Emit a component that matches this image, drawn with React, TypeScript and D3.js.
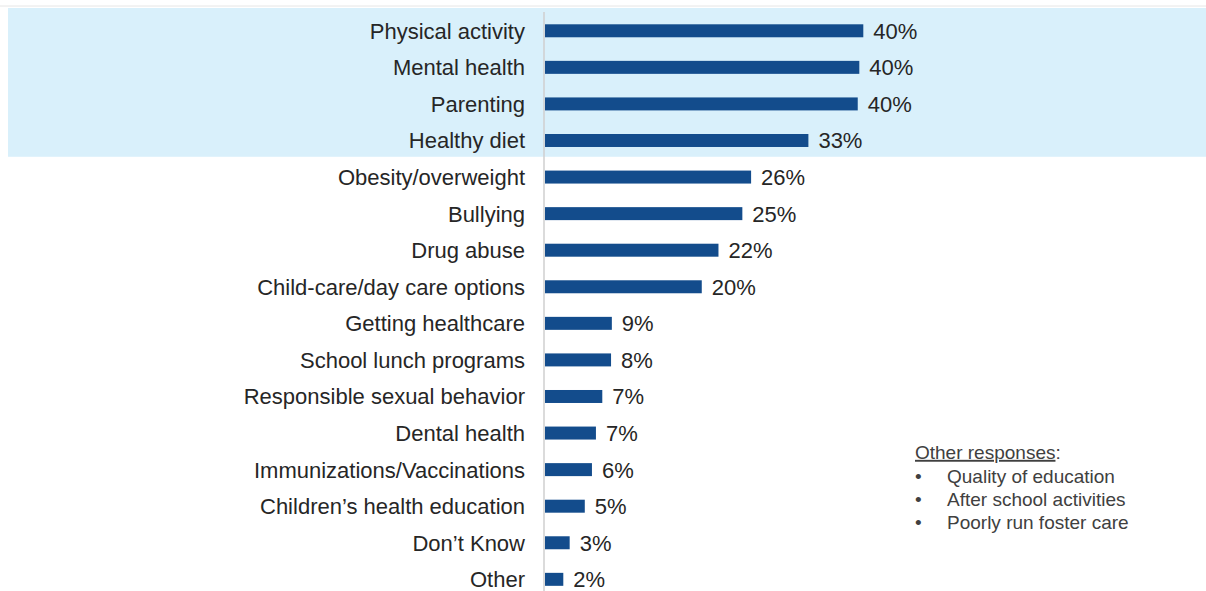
import React from "react";
import * as d3 from "d3";

const categories = [
  "Physical activity",
  "Mental health",
  "Parenting",
  "Healthy diet",
  "Obesity/overweight",
  "Bullying",
  "Drug abuse",
  "Child-care/day care options",
  "Getting healthcare",
  "School lunch programs",
  "Responsible sexual behavior",
  "Dental health",
  "Immunizations/Vaccinations",
  "Children\u2019s health education",
  "Don\u2019t Know",
  "Other",
];
const values = [40.0, 39.5, 39.3, 33.1, 25.9, 24.8, 21.8, 19.7, 8.4, 8.3, 7.2, 6.4, 5.9, 5.0, 3.1, 2.3];
const valueLabels = ["40%", "40%", "40%", "33%", "26%", "25%", "22%", "20%", "9%", "8%", "7%", "7%", "6%", "5%", "3%", "2%"];
const highlightedCount = 4;
const otherTitle = "Other responses";
const otherItems = ["Quality of education", "After school activities", "Poorly run foster care"];

const W = 1206;
const H = 591;
const FONT = "'Liberation Sans', Arial, sans-serif";

export default function App() {
  const x = d3.scaleLinear().domain([0, 40]).range([545, 863.3]);
  const y = d3
    .scaleBand<string>()
    .domain(categories)
    .range([12.5, 12.5 + 16 * 36.57])
    .paddingInner(0.645)
    .paddingOuter(0.3225);
  const step = y.step();
  const hlTop = 8;
  const hlBottom = (y(categories[highlightedCount - 1]) as number) + y.bandwidth() / 2 + step / 2 - 2;

  return (
    <svg
      width={W}
      height={H}
      style={{ position: "absolute", left: 0, top: 0, background: "#fff" }}
      fontFamily={FONT}
    >
      <line x1={0} x2={W} y1={6} y2={6} stroke="#e6e6e6" strokeWidth={1} />
      <rect x={8} y={hlTop} width={W - 8} height={hlBottom - hlTop} fill="#D9F0FB" />
      <line x1={544} x2={544} y1={12} y2={H} stroke="#cfcfcf" strokeWidth={1.5} />
      {categories.map((c, i) => {
        const cy = (y(c) as number) + y.bandwidth() / 2;
        return (
          <g key={c}>
            <rect
              x={x(0)}
              y={y(c) as number}
              width={x(values[i]) - x(0)}
              height={y.bandwidth()}
              fill="#134C8C"
            />
            <text
              x={525}
              y={cy}
              dy="0.36em"
              textAnchor="end"
              fontSize={22}
              fill="#262626"
            >
              {c}
            </text>
            <text x={x(values[i]) + 10} y={cy} dy="0.36em" fontSize={22} fill="#262626">
              {valueLabels[i]}
            </text>
          </g>
        );
      })}
      <g fontSize={19} fill="#404040">
        <text x={915} y={452} dy="0.36em">
          <tspan textDecoration="underline">{otherTitle}</tspan>
          <tspan>:</tspan>
        </text>
        {otherItems.map((t, i) => (
          <g key={t}>
            <text x={915} y={476 + i * 23} dy="0.36em">
              {"\u2022"}
            </text>
            <text x={947} y={476 + i * 23} dy="0.36em">
              {t}
            </text>
          </g>
        ))}
      </g>
    </svg>
  );
}
